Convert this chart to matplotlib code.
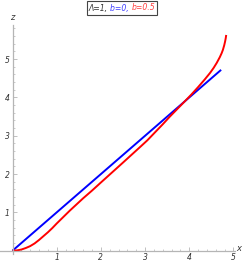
import matplotlib
matplotlib.use("Agg")
import matplotlib.pyplot as plt
import numpy as np
from matplotlib.offsetbox import TextArea, HPacker, AnchoredOffsetbox

# Data
blue_x = [0.0, 4.72]
blue_z = [0.0, 4.72]
red_x = [0.0, 0.1, 0.2, 0.3, 0.4, 0.5, 0.6, 0.7, 0.8, 0.9, 1.0, 1.15, 1.3, 1.45, 1.6, 1.8, 2.0,
         2.25, 2.5, 2.7, 2.9, 3.05, 3.2, 3.4, 3.56, 3.73, 3.9, 4.05, 4.2, 4.35, 4.47, 4.55,
         4.62, 4.69, 4.73, 4.76, 4.79, 4.81, 4.825, 4.835]
red_z = [0.0, 0.008, 0.03, 0.07, 0.12, 0.19, 0.28, 0.38, 0.48, 0.59, 0.71, 0.88, 1.05, 1.21,
         1.37, 1.57, 1.78, 2.04, 2.30, 2.51, 2.72, 2.88, 3.06, 3.30, 3.50, 3.70, 3.90, 4.08,
         4.27, 4.47, 4.64, 4.77, 4.90, 5.05, 5.15, 5.24, 5.36, 5.46, 5.55, 5.63]
x_ticks = [1, 2, 3, 4, 5]
z_ticks = [1, 2, 3, 4, 5]

W, H = 245, 263
fig = plt.figure(figsize=(W/100, H/100), dpi=100)
ax = fig.add_axes([0/W, (H-254)/H, 235/W, (254-25)/H])
ax.set_xlim(-0.283, 5.034)
ax.set_ylim(-0.086, 5.89)

ax.plot(blue_x, blue_z, color=(0, 0, 1), lw=1.4, solid_capstyle='butt')
ax.plot(red_x, red_z, color=(1, 0, 0), lw=1.4, solid_capstyle='butt', solid_joinstyle='round')

axc = '#b5b5b5'
for s in ['top', 'right']:
    ax.spines[s].set_visible(False)
ax.spines['left'].set_position(('data', 0))
ax.spines['bottom'].set_position(('data', 0))
ax.spines['left'].set_color(axc)
ax.spines['bottom'].set_color(axc)
ax.spines['left'].set_linewidth(0.9)
ax.spines['bottom'].set_linewidth(0.9)

ax.set_xticks(x_ticks)
ax.set_yticks(z_ticks)
ax.set_xticks(np.arange(0.2, 5.01, 0.2), minor=True)
ax.set_yticks(np.arange(0.2, 5.81, 0.2), minor=True)
ax.tick_params(which='major', direction='in', length=3.0, width=0.6, color=axc,
               labelsize=5.5, labelcolor='#333333', pad=2)
ax.tick_params(which='minor', direction='in', length=1.5, width=0.5, color=axc)
for lab in ax.get_xticklabels() + ax.get_yticklabels():
    lab.set_fontstyle('italic')

ax.text(0, 5.97, 'z', fontsize=6, fontstyle='italic', color='#333333',
        ha='center', va='bottom', clip_on=False)
ax.text(5.12, 0.05, 'x', fontsize=6, fontstyle='italic', color='#333333',
        ha='center', va='center', clip_on=False)

parts = [TextArea('Λ=1, ', textprops=dict(color='#333333', fontsize=5.6, fontstyle='italic')),
         TextArea('b=0, ', textprops=dict(color='#4040ff', fontsize=5.6, fontstyle='italic')),
         TextArea('b=0.5', textprops=dict(color='#ff4040', fontsize=5.6, fontstyle='italic'))]
box = HPacker(children=parts, align='baseline', pad=0, sep=0)
anch = AnchoredOffsetbox(loc='center', child=box, pad=0.15, frameon=True,
                         bbox_to_anchor=(122/W, (H-8)/H), bbox_transform=fig.transFigure,
                         borderpad=0)
anch.patch.set_edgecolor('#444444')
anch.patch.set_linewidth(0.8)
anch.patch.set_boxstyle('square', pad=0)
fig.add_artist(anch)

fig.savefig('out.png', dpi=100)
